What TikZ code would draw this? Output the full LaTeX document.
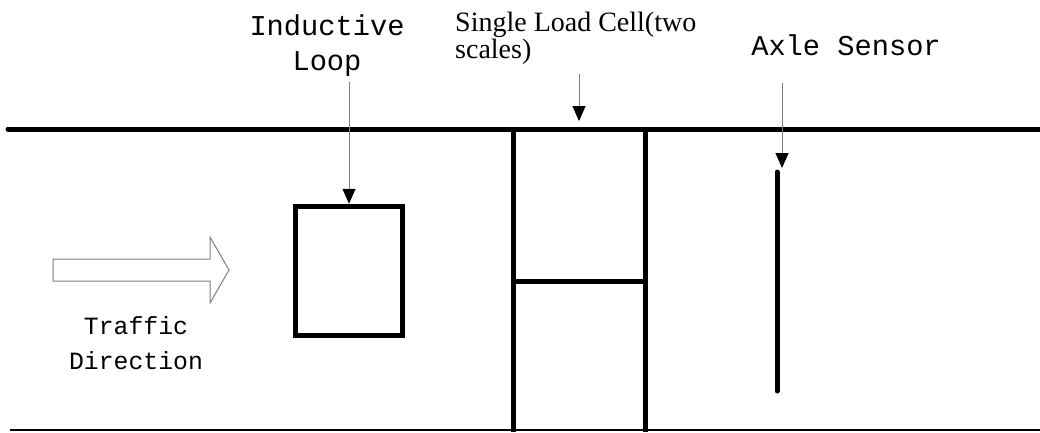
\documentclass[tikz,border=0pt]{standalone}
\usepackage{fontspec}
\setmainfont{Liberation Serif}
\newfontfamily\labelfont{Liberation Mono}
\usetikzlibrary{arrows.meta}
\begin{document}
\begin{tikzpicture}[x=1pt,y=-1pt,
  road/.style={line width=5pt},
  pointer/.style={draw=gray, line width=1pt, -{Triangle[length=15pt,width=13pt,black]}},
  lbl/.style={inner sep=0pt, anchor=base, align=center}]
\useasboundingbox (0,0) rectangle (1040,432);
% road edges
\draw[road, line cap=round] (8,129) -- (1040,129);
\draw[line width=2.5pt] (10,430) -- (1040,430);
% load cell, two scales
\draw[road] (513,129) -- (513,432);
\draw[road] (645,129) -- (645,432);
\draw[road] (513,281) -- (645,281);
% inductive loop
\node[draw, line width=5pt, minimum width=107pt, minimum height=129.5pt, inner sep=0pt] (loop) at (349,271) {};
% axle sensor
\coordinate (sensortop) at (777,172);
\coordinate (sensorbot) at (777,391);
\draw[road, line cap=round] (sensortop) -- (sensorbot);
% traffic arrow
\draw[gray, line width=1pt, fill=white] (53,259) -- (210,259) -- (210,237) -- (229,270)
  -- (210,303) -- (210,281) -- (53,281) -- cycle;
% labels (base = last line)
\node[lbl, font=\labelfont\fontsize{28.7}{35}\selectfont] (ind) at (327,70) {Inductive\\Loop};
\node[lbl, anchor=base west, align=left, font=\fontsize{28}{27}\selectfont] (cell) at (455,58) {Single Load Cell(two\\scales)};
\node[lbl, font=\labelfont\fontsize{28.7}{35}\selectfont] (axle) at (846,55) {Axle Sensor};
\node[lbl, font=\labelfont\fontsize{24.8}{35}\selectfont] (dir) at (136,369) {Traffic\\Direction};
% pointers
\coordinate (celltip) at (579,121);
\coordinate (axletip) at (782,168);
\draw[pointer, shorten <=6pt] (loop.north |- ind.south) -- (loop.north);
\draw[pointer, shorten <=10pt] (cell.south -| celltip) -- (celltip);
\draw[pointer, shorten <=28pt] (axle.south -| axletip) -- (axletip);
\end{tikzpicture}
\end{document}
